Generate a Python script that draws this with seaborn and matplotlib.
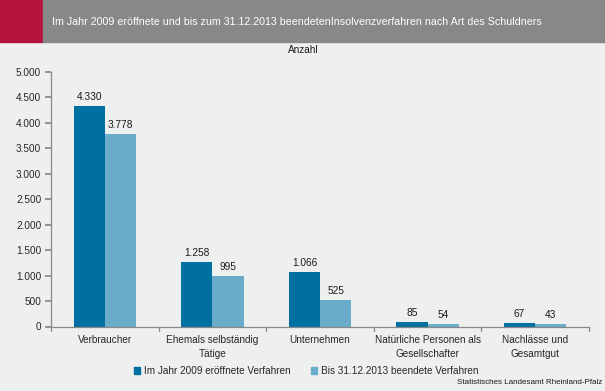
import matplotlib
matplotlib.use("Agg")
import matplotlib.pyplot as plt
import matplotlib.patches as mpatches
import seaborn as sns
import pandas as pd
from matplotlib.ticker import FuncFormatter

categories = ["Verbraucher", "Ehemals selbständig\nTätige", "Unternehmen",
              "Natürliche Personen als\nGesellschafter", "Nachlässe und\nGesamtgut"]
series_names = ["Im Jahr 2009 eröffnete Verfahren", "Bis 31.12.2013 beendete Verfahren"]
opened_2009 = [4330, 1258, 1066, 85, 67]
closed_2013 = [3778, 995, 525, 54, 43]
y_ticks = [0, 500, 1000, 1500, 2000, 2500, 3000, 3500, 4000, 4500, 5000]

df = pd.DataFrame({
    "Kategorie": categories * 2,
    "Serie": [series_names[0]] * 5 + [series_names[1]] * 5,
    "Anzahl": opened_2009 + closed_2013,
})

sns.set_theme(style="white")
plt.rcParams["font.family"] = ["Liberation Sans", "DejaVu Sans"]

bg = "#EEF0EF"
fig = plt.figure(figsize=(6.05, 3.91), dpi=100, facecolor=bg)
W, H = 605, 391
ax = fig.add_axes([51 / W, 1 - 326.5 / H, (589 - 51) / W, (326.5 - 72) / H])
ax.set_facecolor(bg)

palette = ["#0070A0", "#6AADCB"]
sns.barplot(data=df, x="Kategorie", y="Anzahl", hue="Serie", palette=palette,
            width=0.58, saturation=1, ax=ax, legend=False, gap=0, linewidth=0,
            edgecolor="none")

for cont in ax.containers:
    ax.bar_label(cont, labels=[f"{v:,.0f}".replace(",", ".") for v in cont.datavalues],
                 padding=3, fontsize=7.3, color="#1a1a1a")

ax.set_xlim(-0.5, 4.5)
ax.set_ylim(0, 5000)
ax.set_yticks(y_ticks)
ax.yaxis.set_major_formatter(FuncFormatter(lambda v, p: f"{v:,.0f}".replace(",", ".")))
ax.set_xlabel("")
ax.set_ylabel("")
ax.tick_params(axis="y", labelsize=7.2, length=4, color="#888888", direction="out", left=True, pad=3)
ax.tick_params(axis="x", labelsize=7.2, length=0, pad=6)
for lab in ax.get_xticklabels():
    lab.set_linespacing(1.5)
for t in [-0.5, 0.5, 1.5, 2.5, 3.5, 4.5]:
    ax.plot([t, t], [0, -0.016], transform=ax.get_xaxis_transform(), color="#888888",
            lw=0.9, clip_on=False)
for s in ["top", "right"]:
    ax.spines[s].set_visible(False)
for s in ["left", "bottom"]:
    ax.spines[s].set_color("#888888")
    ax.spines[s].set_linewidth(0.9)

# header
fig.patches.append(mpatches.Rectangle((0, 1 - 42 / H), 42 / W, 42 / H,
                                      transform=fig.transFigure, color="#B5123E", zorder=0))
fig.patches.append(mpatches.Rectangle((43 / W, 1 - 42 / H), 1 - 43 / W, 42 / H,
                                      transform=fig.transFigure, color="#87888A", zorder=0))
fig.text(52 / W, 1 - 22 / H, "Im Jahr 2009 eröffnete und bis zum 31.12.2013 beendetenInsolvenzverfahren nach Art des Schuldners",
         color="white", fontsize=7.7, va="center", ha="left")
fig.text(303 / W, 1 - 50 / H, "Anzahl", fontsize=7.2, ha="center", va="center", color="#1a1a1a")

handles = [mpatches.Patch(color=c, label=n) for c, n in zip(palette, series_names)]
fig.legend(handles=handles, loc="center", bbox_to_anchor=(306 / W, 1 - 371 / H), ncol=2,
           frameon=False, fontsize=7.2, handlelength=0.6, handleheight=0.6, handletextpad=0.4,
           columnspacing=2.0)
fig.text(602 / W, 1 - 383 / H, "Statistisches Landesamt Rheinland-Pfalz", fontsize=5.8,
         ha="right", va="center", color="#1a1a1a")

fig.savefig("out.png", dpi=100, facecolor=bg)
